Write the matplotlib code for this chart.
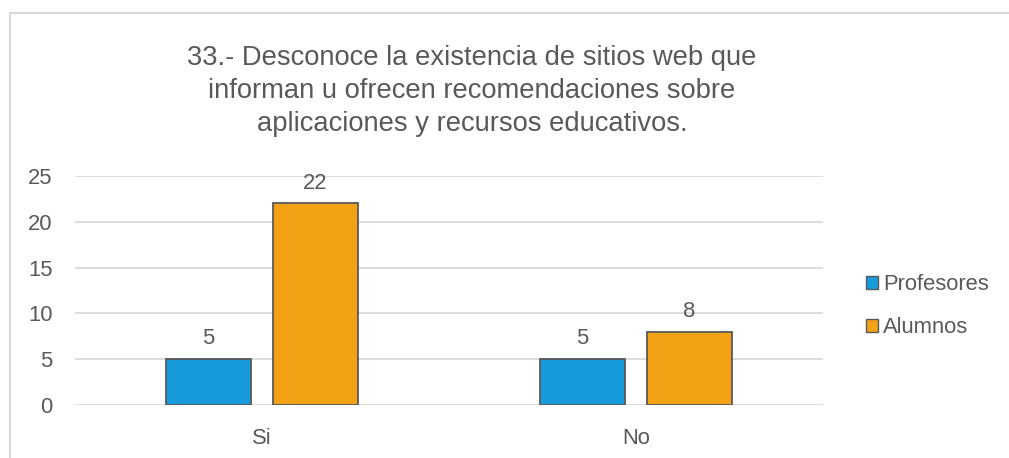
import matplotlib
matplotlib.use("Agg")
import matplotlib.pyplot as plt
from matplotlib.patches import Rectangle, Patch
import numpy as np

plt.rcParams['font.family'] = ['Liberation Sans', 'DejaVu Sans']

categories = ["Si", "No"]
profesores = [5, 5]
alumnos = [22, 8]
series_names = ["Profesores", "Alumnos"]
colors = ["#169cdc", "#f3a216"]
title = ("33.- Desconoce la existencia de sitios web que\n"
         "informan u ofrecen recomendaciones sobre\n"
         "aplicaciones y recursos educativos.")

W, H = 1009, 458
fig = plt.figure(figsize=(W / 100, H / 100), dpi=100)

# chart area border (cut off at right and bottom like the reference)
fig.patches.append(Rectangle((9.5 / W, -0.05), 1.1, 1 - 13.5 / H + 0.05,
                             transform=fig.transFigure, fill=False,
                             edgecolor="#d9d9d9", linewidth=1.5))

ax = fig.add_axes([75 / W, 1 - 405 / H, (823 - 75) / W, (405 - 176) / H])

x = np.arange(len(categories))
width = 0.225
off = 0.143
text_col = "#595959"
for vals, dx, c in [(profesores, -off, colors[0]), (alumnos, off, colors[1])]:
    bars = ax.bar(x + dx, vals, width, color=c, edgecolor="#595959",
                  linewidth=1.3, zorder=3)
    for b, v in zip(bars, vals):
        ax.annotate(str(v), (b.get_x() + b.get_width() / 2, v),
                    xytext=(0, 7), textcoords="offset points",
                    ha="center", va="bottom", fontsize=15.8, color=text_col)

ax.set_xlim(-0.5, 1.5)
ax.set_ylim(0, 25)
ax.set_yticks(range(0, 26, 5))
ax.set_xticks(x)
ax.set_xticklabels(categories)
ax.grid(axis="y", color="#d9d9d9", linewidth=1.3, zorder=0)
for s in ax.spines.values():
    s.set_visible(False)
ax.tick_params(axis="both", length=0, labelsize=15.8, labelcolor=text_col)
ax.tick_params(axis="y", pad=16)
ax.tick_params(axis="x", pad=16.5)

fig.text(472 / W, 1 - 91 / H, title, ha="center", va="center",
         fontsize=19.7, color=text_col, linespacing=1.33)

handles = [Patch(facecolor=c, edgecolor="#595959", linewidth=1.0) for c in colors]
fig.legend(handles, series_names, loc="center left",
           bbox_to_anchor=(846 / W, 1 - 306 / H), frameon=False,
           fontsize=15.8, labelcolor=text_col, handlelength=0.55,
           handleheight=0.55, handletextpad=0.25, labelspacing=1.0)

fig.savefig("out.png", dpi=100, facecolor="white")
